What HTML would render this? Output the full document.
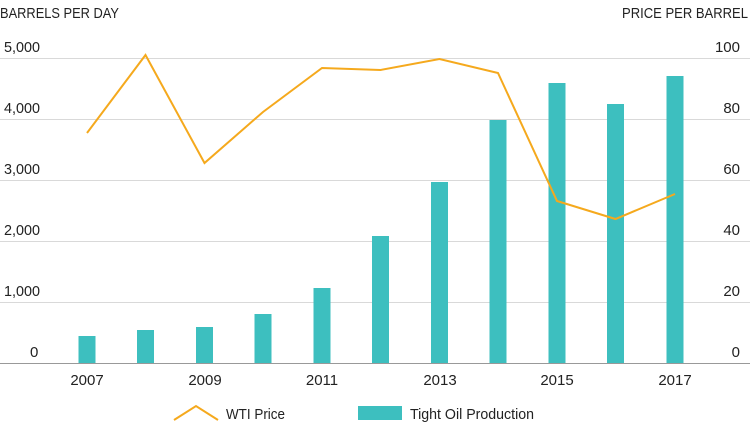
<!DOCTYPE html><html><head><style>body{margin:0;background:#fff}svg{display:block;font-family:"Liberation Sans",sans-serif}</style></head><body>
<svg width="750" height="431" xmlns="http://www.w3.org/2000/svg">
<g stroke="#d9d9d9" stroke-width="1">
<line x1="0" x2="750" y1="58.5" y2="58.5"/><line x1="0" x2="750" y1="119.5" y2="119.5"/><line x1="0" x2="750" y1="180.5" y2="180.5"/><line x1="0" x2="750" y1="241.5" y2="241.5"/><line x1="0" x2="750" y1="302.5" y2="302.5"/></g>
<line x1="0" x2="750" y1="363.5" y2="363.5" stroke="#999" stroke-width="1"/>
<g font-size="15" fill="#222">
<text x="0" y="18" textLength="119" lengthAdjust="spacingAndGlyphs">BARRELS PER DAY</text>
<text x="622" y="18" textLength="126" lengthAdjust="spacingAndGlyphs">PRICE PER BARREL</text>
<text x="4" y="52" textLength="36" lengthAdjust="spacingAndGlyphs">5,000</text><text x="4" y="113" textLength="36" lengthAdjust="spacingAndGlyphs">4,000</text><text x="4" y="174" textLength="36" lengthAdjust="spacingAndGlyphs">3,000</text><text x="4" y="235" textLength="36" lengthAdjust="spacingAndGlyphs">2,000</text><text x="4" y="296" textLength="36" lengthAdjust="spacingAndGlyphs">1,000</text><text x="30" y="357">0</text>
<text x="740" y="52" text-anchor="end">100</text><text x="740" y="113" text-anchor="end">80</text><text x="740" y="174" text-anchor="end">60</text><text x="740" y="235" text-anchor="end">40</text><text x="740" y="296" text-anchor="end">20</text><text x="740" y="357" text-anchor="end">0</text>
<text x="87" y="385" text-anchor="middle">2007</text><text x="205" y="385" text-anchor="middle">2009</text><text x="322" y="385" text-anchor="middle">2011</text><text x="440" y="385" text-anchor="middle">2013</text><text x="557" y="385" text-anchor="middle">2015</text><text x="675" y="385" text-anchor="middle">2017</text>
<text x="226" y="419" textLength="59" lengthAdjust="spacingAndGlyphs">WTI Price</text><text x="410" y="419" textLength="124" lengthAdjust="spacingAndGlyphs">Tight Oil Production</text>
</g>
<g fill="#3dbfbf">
<rect x="78.5" y="336" width="17" height="27"/><rect x="137" y="330" width="17" height="33"/><rect x="196" y="327" width="17" height="36"/><rect x="254.5" y="314" width="17" height="49"/><rect x="313.5" y="288" width="17" height="75"/><rect x="372" y="236" width="17" height="127"/><rect x="431" y="182" width="17" height="181"/><rect x="489.5" y="120" width="17" height="243"/><rect x="548.5" y="83" width="17" height="280"/><rect x="607" y="104" width="17" height="259"/><rect x="666.5" y="76" width="17" height="287"/>
<rect x="358" y="406" width="44" height="14"/>
</g>
<polyline fill="none" stroke="#f5a91d" stroke-width="2" points="87,133 145.5,55 204.5,163 263,112 322,68 380.5,70 439.5,59 498,73 557,201 615.5,219 675,194"/>
<polyline fill="none" stroke="#f5a91d" stroke-width="2" points="174,420 196,406 218,420"/>
</svg></body></html>
